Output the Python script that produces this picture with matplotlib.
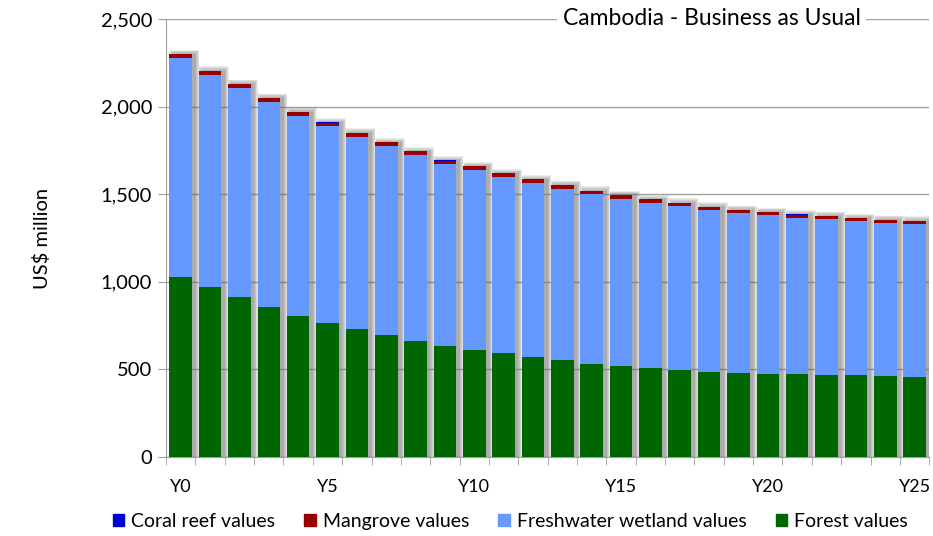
import numpy as np
import matplotlib
matplotlib.use("Agg")
import matplotlib.pyplot as plt
from matplotlib.patches import Patch

plt.rcParams['font.family'] = ['Lato', 'DejaVu Sans']

years = ["Y%d" % i for i in range(26)]
forest = [1028, 970, 913, 856, 806, 765, 730, 696, 662, 634,
          611, 592, 571, 554, 533, 519, 508, 497, 487, 479,
          474, 472, 468, 466, 463, 458]
total = [2300, 2205, 2129, 2049, 1971, 1910, 1851, 1796, 1745, 1693,
         1660, 1620, 1585, 1553, 1520, 1495, 1471, 1452, 1429, 1410,
         1398, 1385, 1376, 1364, 1353, 1349]
mangrove = [24, 24, 23, 23, 23, 22, 22, 22, 21, 21,
            21, 20, 20, 20, 20, 19, 19, 19, 19, 19,
            18, 18, 18, 18, 18, 18]
coral = [1] * 26
freshwater = [t - f - m - c for t, f, m, c in zip(total, forest, mangrove, coral)]

c_coral = "#0000CC"
c_mangrove = "#990000"
c_fresh = "#6699FF"
c_forest = "#006600"

fig = plt.figure(figsize=(9.33, 5.36), dpi=100)
ax = fig.add_axes([0.178, 0.1474, 0.818, 0.8172])

x = np.arange(len(years))
w = 0.77
forest = np.array(forest)
freshwater = np.array(freshwater)
mangrove = np.array(mangrove)
coral = np.array(coral)
tops = forest + freshwater + mangrove + coral

# soft shadow behind the bars
for k in range(6):
    ax.bar(x + 0.12, tops + 5 * k, width=w + 0.05 * k, color="#6a6a6a",
           alpha=0.12, zorder=1, linewidth=0)

ax.bar(x, forest, width=w, color=c_forest, zorder=3, linewidth=0)
ax.bar(x, freshwater, width=w, bottom=forest, color=c_fresh, zorder=3, linewidth=0)
ax.bar(x, mangrove, width=w, bottom=forest + freshwater, color=c_mangrove, zorder=3, linewidth=0)
ax.bar(x, coral, width=w, bottom=forest + freshwater + mangrove, color=c_coral, zorder=3, linewidth=0)

ax.set_xlim(-0.5, 25.5)
ax.set_ylim(0, 2500)
ax.set_yticks(np.arange(0, 2501, 500))
ax.set_yticklabels(["{:,}".format(v) for v in range(0, 2501, 500)])
ax.yaxis.grid(True, color="#a0a0a0", linewidth=1, zorder=0)
ax.set_axisbelow(True)

ax.set_xticks(x[::5])
ax.set_xticklabels(years[::5])
ax.set_xticks(np.arange(-0.5, 26, 1), minor=True)
ax.tick_params(axis='x', which='major', length=0, pad=16, labelsize=13)
ax.tick_params(axis='x', which='minor', length=6, color="#a0a0a0")
ax.tick_params(axis='y', length=6, color="#a0a0a0", labelsize=14.5, pad=4)

for s in ["top", "right"]:
    ax.spines[s].set_visible(False)
for s in ["left", "bottom"]:
    ax.spines[s].set_color("#a0a0a0")

ax.set_ylabel("US$ million", fontsize=14.5, labelpad=36)

ax.text(0.715, 2500, "Cambodia - Business as Usual", transform=ax.get_yaxis_transform(),
        fontsize=16.5, ha="center", va="center",
        bbox=dict(facecolor="white", edgecolor="none", pad=4), zorder=5, clip_on=False)

handles = [Patch(color=c_coral, label="Coral reef values"),
           Patch(color=c_mangrove, label="Mangrove values"),
           Patch(color=c_fresh, label="Freshwater wetland values"),
           Patch(color=c_forest, label="Forest values")]
fig.legend(handles=handles, loc="center", bbox_to_anchor=(0.547, 0.027), ncol=4,
           frameon=False, fontsize=14, handlelength=0.6, handleheight=0.6,
           handletextpad=0.35, columnspacing=1.5)

fig.savefig("out.png", dpi=100)
